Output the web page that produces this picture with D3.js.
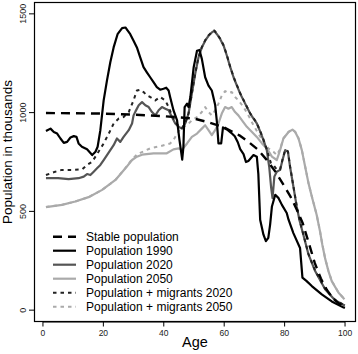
<!DOCTYPE html>
<html><head><meta charset="utf-8">
<script src="https://cdn.jsdelivr.net/npm/d3@7"></script>
<style>
html,body{margin:0;padding:0;background:#fff;}
svg{display:block;font-family:"Liberation Sans",Arial,sans-serif;}
</style></head>
<body>
<svg id="chart" width="358" height="354"></svg>
<script>
// ---- data (age, population in thousands) ----
const xTicks = [0, 20, 40, 60, 80, 100];
const yTicks = [0, 500, 1000, 1500];
const seriesNames = ["Stable population","Population 1990","Population 2020","Population 2050","Population + migrants 2020","Population + migrants 2050"];

const stable = [[1,998],[10,997],[20,995],[30,990],[40,982],[45,976],[50,970],[55,950],[60,925],[65,885],[68,852],[71,815],[74,762],[77,700],[80,625],[82,573],[84,510],[86,440],[88,340],[90,238],[92,160],[94,102],[96,60],[98,33],[100,18]];

const pop1990 = [[1,907],[2.5,919],[3.6,902],[4.7,894],[5.8,869],[6.9,847],[8,852],[9.1,874],[10.2,881],[11.1,877],[11.8,844],[12.9,827],[14.6,814],[16.3,785],[17.4,802],[18.1,827],[19,911],[20.1,1062],[21.2,1163],[22.3,1255],[23.4,1330],[24.7,1397],[26.2,1428],[27.3,1431],[28,1416],[28.9,1397],[30,1364],[31.1,1330],[32.2,1280],[33.3,1230],[34.4,1204],[35.5,1179],[36.6,1154],[37.7,1129],[38.8,1116],[39.9,1121],[40.8,1126],[41.6,1112],[42.1,1079],[43.2,1012],[44.4,961],[45.2,861],[46.1,762],[46.5,827],[46.9,1028],[47.7,1045],[48.2,1028],[48.8,1079],[49.9,1230],[51,1313],[51.8,1317],[52.6,1272],[53.7,1179],[54.8,1137],[55.9,1112],[57,1040],[57.6,950],[58.1,844],[59,844],[59.6,925],[60.9,915],[62.3,898],[63.5,880],[64.5,850],[65.3,815],[66.4,790],[67.2,750],[68,755],[69.7,785],[70.8,777],[71.3,690],[71.9,458],[73,382],[73.8,349],[74.6,366],[75.2,433],[75.8,525],[76.9,584],[78,567],[79.1,533],[80.7,492],[81.3,458],[82.9,390],[85.1,315],[85.9,165],[87.3,147],[89,122],[92.3,80],[95.6,44],[99.4,14],[100,12]];

const pop2020 = [[1,668],[5,668],[8.5,663],[11.8,668],[13.5,676],[14.6,689],[15.7,684],[16.8,701],[17.9,718],[19,735],[20.1,760],[21.2,785],[22.3,810],[23.4,835],[24.5,869],[25.6,852],[26.7,877],[28.4,911],[29.5,945],[30,986],[30.6,1005],[31.7,1037],[32.8,1053],[33.9,1037],[35,1028],[36.1,1003],[37.2,986],[38.3,1012],[39.4,1028],[40.5,1020],[41.6,1012],[42.7,978],[43.8,945],[44.9,928],[46,919],[47.1,945],[48.2,995],[49.3,1096],[50.4,1196],[51.5,1280],[52.6,1330],[53.7,1364],[54.8,1389],[55.9,1406],[56.7,1414],[57.6,1397],[58.7,1372],[59.8,1339],[60.9,1288],[62,1230],[63.1,1179],[64.2,1137],[65.3,1096],[66.4,1062],[67.5,1028],[68.6,995],[69.7,970],[70.8,945],[71.9,905],[73,861],[74.1,810],[74.9,726],[75.5,626],[76,567],[76.6,676],[77.4,701],[78.5,710],[79.3,760],[80.2,810],[81.1,802],[81.8,726],[82.9,626],[84,525],[85,450],[86.2,382],[87.9,282],[90.1,198],[93.4,106],[96.7,50],[99.4,27],[100,25]];

const pop2050 = [[1,522],[6.3,533],[10.7,550],[15.1,572],[19.6,609],[24,659],[27.3,718],[29.5,760],[31.1,777],[32.8,787],[36.6,794],[41,794],[43.2,814],[44.9,819],[46,812],[47.7,844],[49.3,877],[51,894],[52.6,919],[53.7,936],[54.8,911],[55.9,886],[57,911],[58.1,945],[59.2,995],[60.3,1028],[61.4,1020],[62.5,1028],[63.6,1003],[64.7,986],[65.9,961],[67.5,928],[69.2,902],[70.8,877],[72.5,844],[74.1,819],[75.8,777],[77.4,760],[78.5,810],[79.6,869],[81.3,902],[82.6,914],[83.5,902],[84.6,869],[85.7,810],[86.8,726],[87.9,643],[89,575],[90.6,483],[91.7,400],[92.5,330],[93.4,262],[94.5,198],[95.6,147],[97.8,89],[99.8,55]];

const mig2020 = [[1,684],[4.1,701],[6.3,710],[9.7,710],[13,713],[14.6,735],[16.3,751],[18.4,802],[20.1,844],[21.8,894],[23.4,945],[25.1,970],[26.7,978],[28.4,1003],[30,1062],[31.1,1112],[32.2,1116],[33.3,1104],[34.4,1087],[35.5,1079],[37.2,1062],[38.8,1079],[40.5,1062],[41.6,1028],[42.7,986],[43.8,953],[44.9,931],[46,922],[47.1,947],[48.2,997],[49.3,1098],[50.4,1198],[51.5,1282],[52.6,1332],[53.7,1366],[54.8,1391],[55.9,1408],[56.7,1416],[57.6,1399],[58.7,1374],[59.8,1341],[60.9,1290],[62,1232],[63.1,1181],[64.2,1139],[65.3,1098],[66.4,1064],[67.5,1030],[68.6,997],[69.7,972],[70.8,947],[71.9,907],[73,863],[74.1,815],[74.9,770],[75.5,745],[76.3,735],[77.4,712],[78.5,712],[79.3,762],[80.2,812],[81.1,804],[81.8,728],[82.9,628],[84,527],[85,452],[86.2,384],[87.9,284],[90.1,200],[93.4,108],[96.7,52],[99.4,28],[100,26]];

const mig2050 = [[1,522],[6.3,533],[10.7,550],[15.1,572],[19.6,609],[24,659],[27.3,720],[29.5,764],[31.1,787],[32.2,796],[35.5,819],[38.8,830],[42.1,844],[43.2,861],[44.4,894],[45.5,919],[47.7,936],[49.3,961],[51,978],[52.6,1003],[53.7,1028],[54.8,1003],[55.9,986],[57,1012],[58.1,1045],[59.2,1087],[60.3,1109],[61.4,1099],[62.5,1104],[63.6,1079],[64.7,1062],[66.4,1028],[68,986],[69.7,936],[71.3,894],[73,852],[74.6,819],[76.3,802],[77.4,785],[78.5,815],[79.6,870],[81.3,903],[82.6,915],[83.5,903],[84.6,870],[85.7,811],[86.8,727],[87.9,644],[89,576],[90.6,484],[91.7,401],[92.5,331],[93.4,263],[94.5,199],[95.6,148],[97.8,90],[99.8,56]];

// ---- layout ----
const svg = d3.select("#chart");
const L = 34, R = 356, T = 2, B = 322;
const xr = [1, 100], yr = [0, 1500];
const xe = (xr[1]-xr[0])*0.04, ye = (yr[1]-yr[0])*0.04;
const x = d3.scaleLinear().domain([xr[0]-xe, xr[1]+xe]).range([L, R+1]);
const y = d3.scaleLinear().domain([yr[0]-ye, yr[1]+ye]).range([B, T]);

const styles = [
  {data: stable,  color:"#000",   width:2.4, dash:"9,6"},
  {data: pop1990, color:"#000",   width:2.2, dash:null},
  {data: pop2020, color:"#555",   width:2.2, dash:null},
  {data: pop2050, color:"#aaa",   width:2.2, dash:null},
  {data: mig2020, color:"#222",   width:2.0, dash:"3.5,4"},
  {data: mig2050, color:"#aaa",   width:2.0, dash:"3.5,4"}
];

const g = svg.append("g");
const line = d3.line().x(d => x(d[0])).y(d => y(d[1]));
const drawOrder = [3,5,2,4,1,0];
drawOrder.forEach(i => {
  const s = styles[i];
  g.append("path").datum(s.data)
    .attr("d", line).attr("fill","none")
    .attr("stroke", s.color).attr("stroke-width", s.width)
    .attr("stroke-linejoin","round")
    .attr("stroke-dasharray", s.dash);
});

// box
svg.append("rect").attr("x", L+0.5).attr("y", T+0.5).attr("width", R-L-1).attr("height", B-T-1)
  .attr("fill","none").attr("stroke","#000").attr("stroke-width",1.2);

// x axis
const xa = svg.append("g");
xa.append("line").attr("x1", x(0)).attr("x2", x(100)).attr("y1", B).attr("y2", B).attr("stroke","#000");
xTicks.forEach(t => {
  xa.append("line").attr("x1", x(t)).attr("x2", x(t)).attr("y1", B).attr("y2", B+4.5).attr("stroke","#000");
  xa.append("text").attr("x", x(t)).attr("y", 336).attr("text-anchor","middle")
    .attr("font-size", 8.5).attr("fill","#222").text(t);
});
// y axis
const ya = svg.append("g");
yTicks.forEach(t => {
  ya.append("line").attr("x1", L-5).attr("x2", L).attr("y1", y(t)).attr("y2", y(t)).attr("stroke","#000");
  ya.append("text").attr("transform", `translate(26,${y(t)}) rotate(-90)`).attr("text-anchor","middle")
    .attr("font-size", 9).attr("fill","#222").text(t);
});

svg.append("text").attr("x", (L+R)/2).attr("y", 347).attr("text-anchor","middle")
  .attr("font-size", 14.5).attr("fill","#000").text("Age");
svg.append("text").attr("transform", `translate(12,152) rotate(-90)`).attr("text-anchor","middle")
  .attr("font-size", 13.5).attr("fill","#000").text("Population in thousands");

// legend
const lg = svg.append("g");
seriesNames.forEach((name, i) => {
  const s = styles[i];
  const cy = 236.7 + i*14;
  lg.append("line").attr("x1", 53).attr("x2", 76).attr("y1", cy).attr("y2", cy)
    .attr("stroke", s.color).attr("stroke-width", s.width).attr("stroke-dasharray", s.dash);
  lg.append("text").attr("x", 86).attr("y", cy+4.3).attr("font-size", 12).attr("fill","#000").text(name);
});
</script>
</body></html>
